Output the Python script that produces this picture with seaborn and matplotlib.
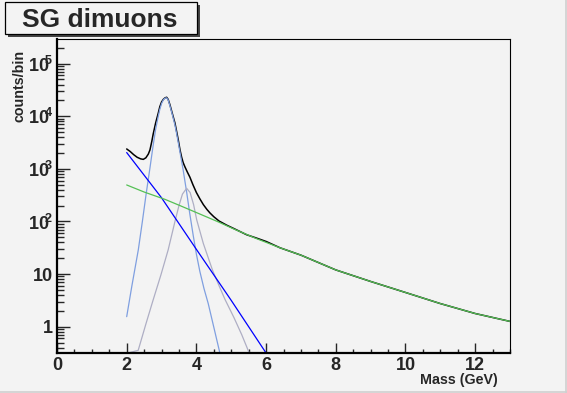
import numpy as np
import pandas as pd
import matplotlib
matplotlib.use("Agg")
import matplotlib.pyplot as plt
from matplotlib.ticker import FixedLocator, LogLocator, NullFormatter, MultipleLocator
from matplotlib.patches import Rectangle
import seaborn as sns

# ---------------- data ----------------
total_mass = [2.0, 2.1, 2.2, 2.3, 2.4, 2.476, 2.55, 2.62, 2.668, 2.72, 2.76, 2.83, 2.906,
              2.95, 3.0, 3.05, 3.1, 3.147, 3.19, 3.24, 3.31, 3.385, 3.43, 3.48, 3.53,
              3.577, 3.62, 3.67, 3.74, 3.815, 3.9, 4.0, 4.1, 4.2, 4.3, 4.39, 4.5, 4.65,
              4.87, 5.1, 5.44, 5.7, 6.0, 6.4, 7.0, 8.0, 9.0, 10.0, 11.0, 12.0, 13.0]
total_counts = [2388, 2138, 1862, 1660, 1549, 1514, 1622, 1905, 2291, 3311, 4571, 7413, 11482,
                15136, 18621, 20893, 22387, 22909, 20893, 16596, 11220, 7413, 5248, 3548, 2291,
                1660, 1318, 1096, 871, 692, 501, 355, 269, 209, 170, 145, 123, 102,
                85, 72, 56, 49, 41.7, 31.6, 22.9, 12.0, 7.24, 4.47, 2.75, 1.78, 1.26]

jpsi_mass = [2.0, 2.15, 2.333, 2.45, 2.553, 2.668, 2.76, 2.83, 2.906, 2.95, 3.0, 3.05, 3.1,
             3.147, 3.19, 3.24, 3.31, 3.385, 3.43, 3.48, 3.55, 3.62, 3.72, 3.81, 3.91,
             4.0, 4.1, 4.22, 4.34, 4.5, 4.676]
jpsi_counts = [1.55, 6.03, 28.8, 100, 316, 1047, 2818, 5623, 10000, 13490, 17378, 20417, 22131,
               22387, 20417, 15849, 10715, 6761, 4786, 3162, 1738, 955, 363, 141, 53.7,
               24.0, 11.2, 5.25, 2.75, 0.977, 0.312]

psi2_mass = [2.0, 2.33, 2.55, 2.76, 2.98, 3.19, 3.385, 3.5, 3.6, 3.72, 3.82, 3.92, 4.01,
             4.2, 4.46, 4.65, 4.82, 5.08, 5.3, 5.52]
psi2_counts = [0.063, 0.355, 1.12, 3.24, 9.55, 28.8, 100, 200, 331, 427, 355, 209, 107,
               38.0, 12.0, 6.03, 3.31, 1.48, 0.708, 0.312]

expo_mass = [2.0, 3.0, 4.0, 5.0, 6.0, 6.64]
expo_counts = [2040, 282, 29.5, 3.16, 0.316, 0.076]

cont_mass = [2.0, 2.5, 3.1, 3.5, 4.05, 4.6, 5.1, 5.7, 6.4, 7.0, 8.0, 9.0, 10.0, 11.0, 12.0, 13.0]
cont_counts = [494, 363, 263, 204, 143, 100, 70.8, 47.9, 31.6, 22.9, 12.0, 7.24, 4.47, 2.75, 1.78, 1.26]

x_ticks = [0, 2, 4, 6, 8, 10, 12]
x_tick_labels = ["0", "2", "4", "6", "8", "10", "12"]
y_ticks = [1, 10, 100, 1000, 10000, 100000]
y_tick_labels = ["1", "10", r"$\mathbf{10}^{\!\!\mathbf{2}}$", r"$\mathbf{10}^{\!\!\mathbf{3}}$",
                 r"$\mathbf{10}^{\!\!\mathbf{4}}$", r"$\mathbf{10}^{\!\!\mathbf{5}}$"]
title_text = "SG dimuons"
x_title = "Mass (GeV)"
y_title = "counts/bin"

# ---------------- style ----------------
BG = "#f3f3f3"
W, H = 567, 393
YMIN, YMAX = 0.312, 2.9e5

sns.set_style("ticks")
plt.rcParams["font.family"] = ["Liberation Sans", "DejaVu Sans"]
plt.rcParams["mathtext.fontset"] = "custom"
plt.rcParams["mathtext.rm"] = "Liberation Sans"
plt.rcParams["mathtext.bf"] = "Liberation Sans:bold"

fig = plt.figure(figsize=(W / 100, H / 100), dpi=100, facecolor=BG)
ax = fig.add_axes([57 / W, 1 - 353.3 / H, (510 - 57) / W, (353.3 - 39.3) / H])
ax.set_facecolor(BG)

frames = []
for name, xs, ys in [("total", total_mass, total_counts),
                     ("jpsi", jpsi_mass, jpsi_counts),
                     ("psi2", psi2_mass, psi2_counts),
                     ("expo", expo_mass, expo_counts),
                     ("cont", cont_mass, cont_counts)]:
    d = pd.DataFrame({"mass": xs, "counts": ys})
    d["component"] = name
    frames.append(d)
df = pd.concat(frames, ignore_index=True)
df["shown"] = df["counts"].clip(lower=YMIN)

styles = {
    "total": ("#000000", 1.1),
    "jpsi": ("#7f9fe0", 0.9),
    "psi2": ("#aeaec4", 0.9),
    "expo": ("#0000ff", 0.9),
    "cont": ("#55c055", 0.9),
}
for name in ["total", "jpsi", "psi2", "expo", "cont"]:
    col, lw = styles[name]
    sub = df[df["component"] == name]
    sns.lineplot(data=sub, x="mass", y="shown", ax=ax, color=col, linewidth=lw,
                 estimator=None, sort=False, legend=False, clip_on=False)

ax.set_yscale("log")
ax.set_xlim(0, 13)
ax.set_ylim(YMIN, YMAX)

ax.xaxis.set_major_locator(FixedLocator(x_ticks))
ax.set_xticklabels(x_tick_labels)
ax.xaxis.set_minor_locator(MultipleLocator(0.5))
ax.yaxis.set_major_locator(FixedLocator(y_ticks))
ax.set_yticklabels(y_tick_labels)
ax.yaxis.set_minor_locator(LogLocator(base=10, subs=np.arange(2, 10)))
ax.yaxis.set_minor_formatter(NullFormatter())

ax.tick_params(axis="x", which="major", direction="in", length=7.2, width=1.0,
               pad=2.8, labelsize=13, top=False)
ax.tick_params(axis="x", which="minor", direction="in", length=3.2, width=1.0, top=False)
ax.tick_params(axis="y", which="major", direction="in", length=9.4, width=1.0,
               pad=3.0, labelsize=13, right=False)
ax.tick_params(axis="y", which="minor", direction="in", length=4.7, width=1.0, right=False)
for lab in ax.get_xticklabels() + ax.get_yticklabels():
    lab.set_fontweight("bold")

for s in ["left", "bottom"]:
    ax.spines[s].set_linewidth(1.6)
    ax.spines[s].set_color("black")
for s in ["top", "right"]:
    ax.spines[s].set_visible(True)
    ax.spines[s].set_linewidth(0.8)
    ax.spines[s].set_color("black")

ax.set_xlabel("")
ax.set_ylabel("")
fig.text(498 / W, 1 - 384 / H, x_title, ha="right", va="baseline",
         fontsize=10.3, fontweight="bold")
fig.text(19 / W, 1 - 50 / H, y_title, ha="center", va="top", rotation=90,
         fontsize=10.3, fontweight="bold")

# title box with shadow
fig.patches.append(Rectangle((8 / W, 1 - 37 / H), 192 / W, 32 / H, transform=fig.transFigure,
                             facecolor="#444444", edgecolor="none", zorder=1))
fig.patches.append(Rectangle((5 / W, 1 - 34.3 / H), 192 / W, 32.3 / H, transform=fig.transFigure,
                             facecolor=BG, edgecolor="black", linewidth=0.9, zorder=2))
fig.text(100 / W, 1 - 27 / H, title_text, ha="center", va="baseline",
         fontsize=19, fontweight="bold", zorder=3)

# canvas bevel lines
fig.add_artist(plt.Line2D([0, 1], [0.8 / H, 0.8 / H], transform=fig.transFigure,
                          color="#cfcfcf", linewidth=1.2))
fig.add_artist(plt.Line2D([1 - 0.8 / W, 1 - 0.8 / W], [0, 1], transform=fig.transFigure,
                          color="#cfcfcf", linewidth=1.2))

fig.savefig("out.png", dpi=100, facecolor=BG)
